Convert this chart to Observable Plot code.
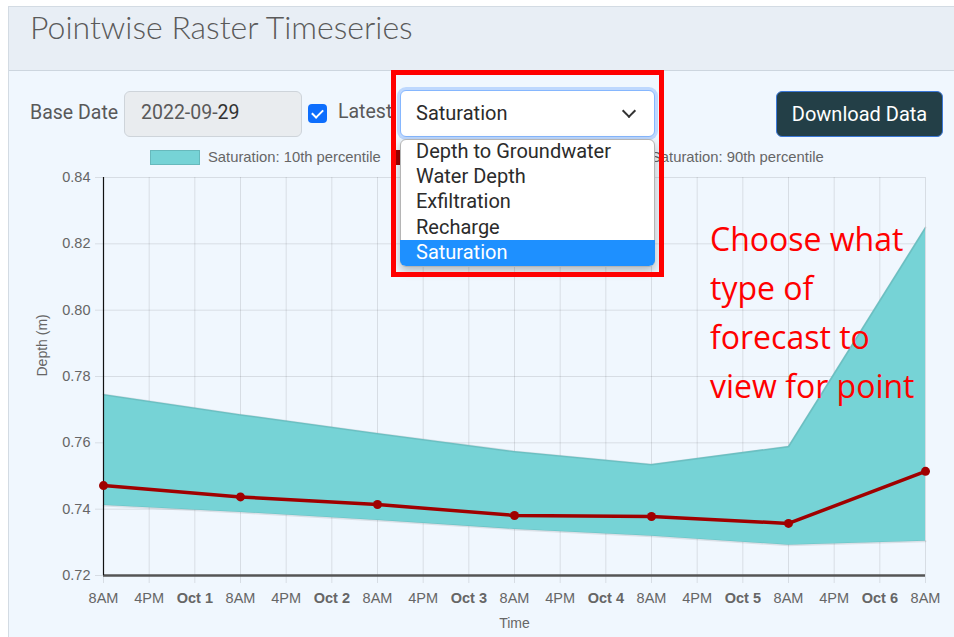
<!DOCTYPE html>
<html>
<head>
<meta charset="utf-8">
<script src="https://cdn.jsdelivr.net/npm/d3@7"></script>
<script src="https://cdn.jsdelivr.net/npm/@observablehq/plot@0.6"></script>
<style>
  html, body { margin: 0; padding: 0; background: #ffffff; }
  body { width: 954px; height: 637px; position: relative; overflow: hidden; font-family: Roboto, "Liberation Sans", sans-serif; }
  .abs { position: absolute; }
  #card { left: 8px; top: 6px; width: 980px; height: 660px; background: #f0f7fe; border: 1px solid #d3dbe3; box-sizing: border-box; }
  #header { left: 9px; top: 7px; width: 980px; height: 63px; background: #e8eef5; border-bottom: 1px solid #cdd6df; }
  #title { left: 30px; top: 7px; font-family: Lato, "Open Sans", sans-serif; font-weight: 300; font-size: 32px; color: #5a5a5a; white-space: nowrap; }
  .lbl { font-size: 19.5px; color: #595959; white-space: nowrap; line-height: 24px; }
  #basedate { left: 124px; top: 91px; width: 178px; height: 46px; background: #e9ecef; border: 1px solid #ced4da; border-radius: 6px; box-sizing: border-box; }
  #check { left: 308px; top: 104px; width: 19px; height: 19px; background: #0d6efd; border-radius: 4px; }
  #check::after { content: ""; position: absolute; left: 6px; top: 3px; width: 5px; height: 9px; border-right: 2.5px solid #fff; border-bottom: 2.5px solid #fff; transform: rotate(45deg); }
  #select { left: 400px; top: 90px; width: 255px; height: 47px; background: #fff; border: 1px solid #86b7fe; border-radius: 6px; box-sizing: border-box; box-shadow: 0 0 0 3px rgba(13,110,253,0.22); z-index: 5; }
  #chev { left: 624px; top: 106px; width: 8px; height: 8px; border-right: 2px solid #333; border-bottom: 2px solid #333; transform: rotate(45deg); z-index: 6; }
  #drop { left: 400px; top: 139px; width: 255px; height: 128px; background: #fff; border: 1px solid #b5b5b5; border-radius: 6px; box-sizing: border-box; box-shadow: 0 4px 10px rgba(0,0,0,0.25); z-index: 5; overflow: hidden; }
  #hl { left: 400px; top: 240px; width: 255px; height: 26px; background: #1e90ff; z-index: 6; border-radius: 0 0 6px 6px; }
  .opt { font-size: 20px; color: #2b2b2b; white-space: nowrap; z-index: 7; line-height: 24px; }
  #redbox { left: 391px; top: 70px; width: 273px; height: 207px; border: 5px solid #ff0000; box-sizing: border-box; z-index: 8; }
  #dl { left: 776px; top: 91px; width: 167px; height: 46px; background: #233f47; border: 1px solid #3b78d8; border-radius: 6px; box-sizing: border-box; color: #fff; font-size: 20px; line-height: 44px; text-align: center; }
  .lgbox { width: 50px; height: 15px; box-sizing: border-box; }
  .lgtxt { font-family: "Liberation Sans", Arial, sans-serif; font-size: 14.8px; color: #666; white-space: nowrap; line-height: 16px; }
  #chart { left: 0px; top: 160px; z-index: 2; }
  #note { left: 710px; top: 214px; font-family: "Open Sans", sans-serif; font-size: 32px; line-height: 49px; color: #ff0000; z-index: 4; white-space: nowrap; }
</style>
</head>
<body>
<div id="card" class="abs"></div>
<div id="header" class="abs"></div>
<div id="title" class="abs">Pointwise Raster Timeseries</div>

<div class="abs lbl" style="left:30px; top:101px;">Base Date</div>
<div id="basedate" class="abs"></div>
<div class="abs lbl" style="left:141px; top:101px;">2022-09-<span style="color:#333">29</span></div>
<div id="check" class="abs"></div>
<div class="abs lbl" style="left:338px; top:100px;">Latest</div>

<div id="select" class="abs"></div>
<div class="abs opt" style="left:416px; top:101px;">Saturation</div>
<div id="chev" class="abs"></div>

<div id="dl" class="abs">Download Data</div>

<div class="abs lgbox" style="left:150px; top:150px; background:#76d3d6; border:1px solid rgba(0,0,0,0.12);"></div>
<div class="abs lgtxt" style="left:208px; top:149px;">Saturation: 10th percentile</div>
<div class="abs lgbox" style="left:392px; top:150px; background:#a00000;"></div>
<div class="abs lgbox" style="left:592px; top:150px; background:#76d3d6; border:1px solid rgba(0,0,0,0.12);"></div>
<div class="abs lgtxt" style="left:651px; top:149px;">Saturation: 90th percentile</div>

<div id="chart" class="abs"></div>

<div id="note" class="abs">Choose what<br>type of<br>forecast to<br>view for point</div>

<div id="drop" class="abs"></div>
<div id="hl" class="abs"></div>
<div id="options"></div>
<div id="redbox" class="abs"></div>

<script>
// ---- data ----
const times = ["2022-09-30T08:00", "2022-10-01T08:00", "2022-10-02T08:00", "2022-10-03T08:00", "2022-10-04T08:00", "2022-10-05T08:00", "2022-10-06T08:00"];
const p10 = [0.7411, 0.7390, 0.7366, 0.7339, 0.7318, 0.7291, 0.7303];
const p50 = [0.7471, 0.7437, 0.7414, 0.7381, 0.7378, 0.7357, 0.7514];
const p90 = [0.7746, 0.7685, 0.7628, 0.7574, 0.7535, 0.7589, 0.8249];
const yTicks = [0.72, 0.74, 0.76, 0.78, 0.80, 0.82, 0.84];
const dropdownOptions = ["Depth to Groundwater", "Water Depth", "Exfiltration", "Recharge", "Saturation"];

// dropdown option texts
const optTops = [139, 164, 189, 215, 240];
const optWrap = document.getElementById("options");
dropdownOptions.forEach((o, i) => {
  const d = document.createElement("div");
  d.className = "abs opt";
  d.style.left = "416px";
  d.style.top = optTops[i] + "px";
  if (i === dropdownOptions.length - 1) d.style.color = "#fff";
  d.textContent = o;
  optWrap.appendChild(d);
});

const parse = d3.timeParse("%Y-%m-%dT%H:%M");
const data = times.map((t, i) => ({t: parse(t), p10: p10[i], p50: p50[i], p90: p90[i]}));
const start = data[0].t, end = data[data.length - 1].t;
const allTicks = d3.timeHour.every(8).range(start, new Date(+end + 1));
const midTicks = allTicks.filter(d => d.getHours() === 0);
const hourTicks = allTicks.filter(d => d.getHours() !== 0);
const fmtHour = d => (d.getHours() % 12 || 12) + (d.getHours() < 12 ? "AM" : "PM");
const fmtDay = d3.timeFormat("%b %-d");

const grid = "rgba(0,0,0,0.1)";
const chart = Plot.plot({
  width: 954,
  height: 477,
  marginTop: 17,
  marginBottom: 62,
  marginLeft: 103,
  marginRight: 29,
  style: {background: "transparent", fontFamily: "'Liberation Sans', Arial, sans-serif", fontSize: "14.5px", color: "#666"},
  x: {type: "time", domain: [start, end]},
  y: {domain: [0.72, 0.84]},
  marks: [
    Plot.gridY(yTicks, {stroke: "#000", strokeOpacity: 0.1}),
    Plot.gridX(allTicks, {stroke: "#000", strokeOpacity: 0.1}),
    Plot.axisY(yTicks, {tickSize: 8, tickPadding: 5, stroke: grid, fill: "#666", tickFormat: d3.format(".2f"), label: null}),
    Plot.axisX(hourTicks, {tickSize: 8, tickPadding: 9, stroke: grid, fill: "#666", tickFormat: fmtHour, label: null}),
    Plot.axisX(midTicks, {tickSize: 8, tickPadding: 9, stroke: grid, fill: "#666", fontWeight: "bold", tickFormat: fmtDay, label: null}),
    Plot.areaY(data, {x: "t", y1: "p10", y2: "p90", fill: "#76d3d6"}),
    Plot.lineY(data, {x: "t", y: "p90", stroke: "#000", strokeOpacity: 0.09, strokeWidth: 2}),
    Plot.lineY(data, {x: "t", y: "p10", stroke: "#000", strokeOpacity: 0.09, strokeWidth: 2}),
    Plot.ruleY([0.72], {stroke: "#555", strokeWidth: 2.5}),
    Plot.ruleX([start], {stroke: "#111", strokeWidth: 1.2}),
    Plot.lineY(data, {x: "t", y: "p50", stroke: "#a00000", strokeWidth: 3.5}),
    Plot.dot(data, {x: "t", y: "p50", r: 4.5, fill: "#a00000"}),
    Plot.text(["Time"], {frameAnchor: "bottom", dy: 52, fill: "#666", fontSize: 14}),
    Plot.text(["Depth (m)"], {frameAnchor: "left", dx: -61, rotate: -90, fill: "#666", fontSize: 14})
  ]
});
document.getElementById("chart").appendChild(chart);
</script>
</body>
</html>
